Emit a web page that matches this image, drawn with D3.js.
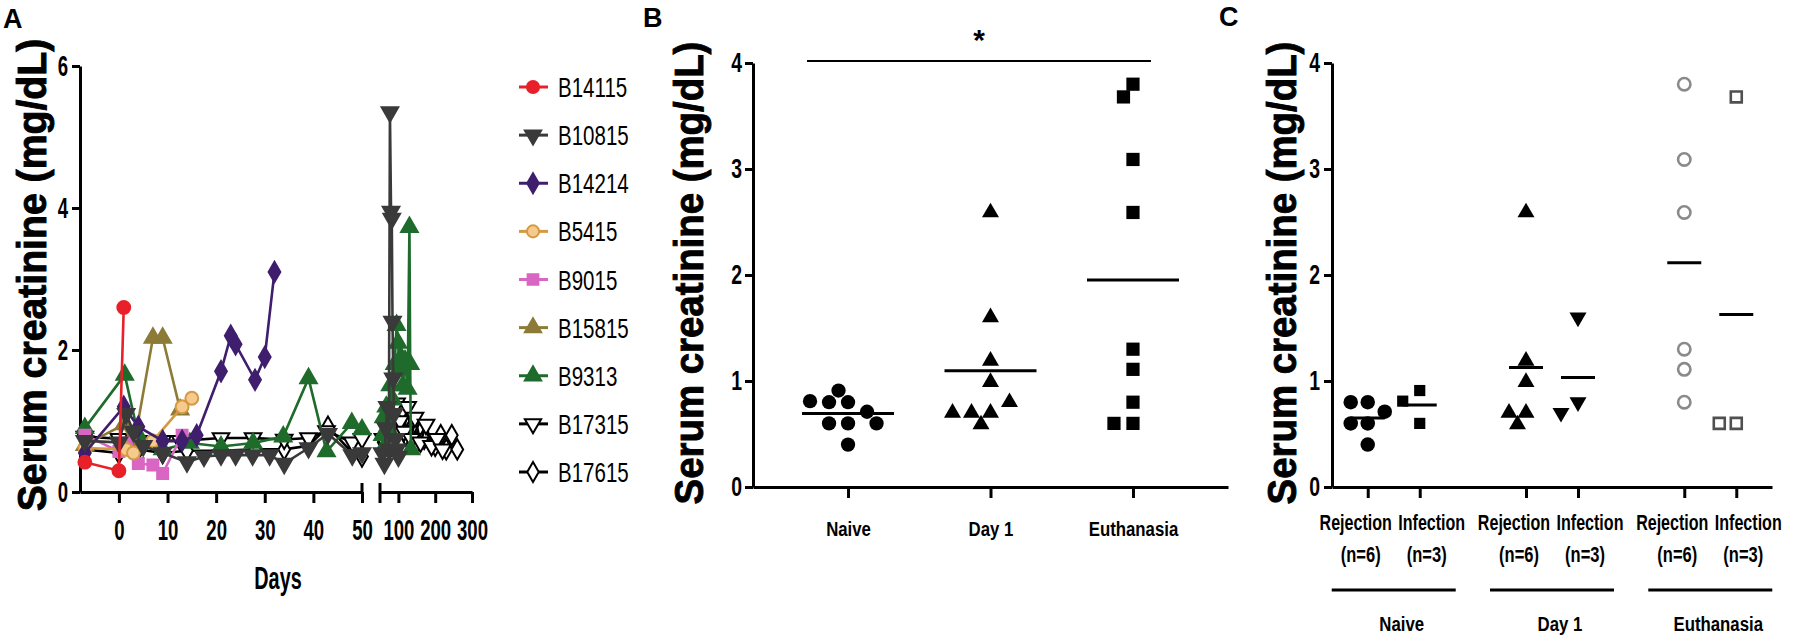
<!DOCTYPE html>
<html>
<head>
<meta charset="utf-8">
<script src="https://d3js.org/d3.v7.min.js"></script>
<style>
  body { margin: 0; background: #fff; }
  svg { display: block; }
  text { font-family: "Liberation Sans", Arial, sans-serif; fill: #000; }
  .axis path, .axis line { stroke: #000; stroke-width: 3; }
  .axis text { font-weight: bold; fill: #000; }
</style>
</head>
<body>
<svg id="fig" width="1793" height="641"></svg>
<script>
// ---------- panel A: serum creatinine per animal, [day, mg/dL] ----------
const animalNames = ["B14115", "B10815", "B14214", "B5415", "B9015", "B15815", "B9313", "B17315", "B17615"];
const B14115 = [[-7, 0.42], [0, 0.3], [1, 2.6]];
const B10815 = [[-7, 0.72], [0, 0.7], [1.5, 1.1], [3, 0.85], [5, 0.65], [9, 0.55], [14, 0.42], [17.5, 0.5], [21, 0.52], [24, 0.52],
  [27.5, 0.52], [31, 0.52], [34, 0.4], [39, 0.62], [43, 0.82], [48, 0.52], [50, 0.55],
  [56, 0.55], [62, 0.4], [66, 0.9], [70, 1.2], [74, 0.6], [77, 5.35], [80, 3.95], [82, 3.85], [84, 2.4], [86, 1.6], [88, 1.1], [92, 0.75], [96, 0.6], [100, 0.5]];
const B14214 = [[-7, 0.55], [1, 1.2], [4, 0.92], [9, 0.72], [13, 0.72], [16, 0.8], [21, 1.7], [23, 2.2], [24, 2.08], [28, 1.58], [30, 1.9], [32, 3.1]];
const B5415 = [[-7, 0.62], [1.5, 0.6], [3, 0.55], [7, 0.72], [13, 1.2], [15, 1.32]];
const B9015 = [[-7, 0.8], [0, 0.57], [1.6, 0.69], [4, 0.4], [7, 0.38], [9, 0.26], [13, 0.8]];
const B15815 = [[-7, 0.66], [1, 0.95], [3, 0.62], [7, 2.17], [9, 2.17], [12.6, 1.16]];
const B9313 = [[-7, 0.9], [1.2, 1.65], [4, 0.8], [9, 0.6], [14.6, 0.69], [21, 0.64], [27.6, 0.69], [33.8, 0.78], [39, 1.6], [42.7, 0.57], [47.9, 0.97], [50, 0.88],
  [57, 0.8], [60, 1.05], [63, 0.65], [67, 1.2], [72, 0.9], [78, 1.5], [85, 1.3], [90, 1.8], [95, 2.35], [99, 2.1], [103, 1.75], [107, 1.9], [112, 1.5],
  [118, 1.85], [125, 1.45], [130, 3.73], [132, 1.8], [134, 0.6]];
const B17315 = [[-7, 0.78], [0, 0.75], [4, 0.72], [9, 0.72], [12.6, 0.72], [21, 0.76], [27.6, 0.76], [34, 0.74], [39, 0.76], [42.7, 0.86], [48, 0.7], [50, 0.75],
  [58, 0.75], [70, 0.55], [95, 1.25], [105, 1.0], [115, 0.85], [125, 1.2], [135, 0.75], [145, 1.05], [160, 0.7], [175, 0.95], [190, 0.65], [205, 0.75], [220, 0.6]];
const B17615 = [[-7, 0.6], [0, 0.55], [4, 0.6], [9, 0.55], [14, 0.58], [21, 0.58], [28, 0.6], [34, 0.6], [39, 0.65], [43, 0.92], [48, 0.55], [50, 0.5],
  [60, 0.7], [75, 0.65], [100, 0.9], [110, 1.15], [120, 0.8], [140, 0.95], [150, 0.7], [170, 0.75], [200, 0.65], [215, 0.8], [230, 0.6], [245, 0.8], [260, 0.6]];
const aYTicks = [0, 2, 4, 6];
const aXTicks1 = [0, 10, 20, 30, 40, 50];
const aXTicks2 = [100, 200, 300];

// ---------- panels B and C: values per outcome group ----------
const timePoints = ["Naive", "Day 1", "Euthanasia"];
const outcomes = ["Rejection", "Infection"];
const outcomeN = ["(n=6)", "(n=3)"];
const naiveRejection = [0.80, 0.80, 0.60, 0.60, 0.40, 0.71];
const naiveInfection = [0.60, 0.91, 0.81];
const day1Rejection = [2.59, 1.19, 0.99, 0.70, 0.70, 0.59];
const day1Infection = [1.60, 0.80, 0.70];
const euthRejection = [3.80, 3.09, 2.59, 1.30, 1.11, 0.80];
const euthInfection = [3.68, 0.60, 0.60];
const bcYTicks = [0, 1, 2, 3, 4];

// ---------- styles ----------
const animalStyle = {
  B14115: { color: "#e8202a", fill: "#e8202a", shape: "circle" },
  B10815: { color: "#3a3a3a", fill: "#3a3a3a", shape: "down" },
  B14214: { color: "#3f1e6e", fill: "#3f1e6e", shape: "diamond" },
  B5415:  { color: "#d49a42", fill: "#f6c98c", shape: "circle" },
  B9015:  { color: "#d866c2", fill: "#d866c2", shape: "square" },
  B15815: { color: "#8c7b36", fill: "#8c7b36", shape: "up" },
  B9313:  { color: "#1f6b2c", fill: "#1f6b2c", shape: "up" },
  B17315: { color: "#000", fill: "#fff", shape: "down" },
  B17615: { color: "#000", fill: "#fff", shape: "diamond" }
};

const svg = d3.select("#fig");
const intFmt = d3.format("d");

function symbolPath(shape, size) {
  const type = { circle: d3.symbolCircle, square: d3.symbolSquare, up: d3.symbolTriangle,
    down: d3.symbolTriangle, diamond: d3.symbolDiamond }[shape];
  return d3.symbol().type(type).size(size)();
}
function markerTransform(shape, x, y) {
  return `translate(${x},${y})` + (shape === "down" ? " rotate(180)" : "");
}

function addText(parent, x, y, str, o) {
  o = Object.assign({ size: 20, weight: "bold", sx: 1, anchor: "middle", rotate: 0 }, o);
  return parent.append("text")
    .attr("transform", `translate(${x},${y}) rotate(${o.rotate}) scale(${o.sx},1)`)
    .attr("text-anchor", o.anchor)
    .style("font-size", o.size + "px")
    .style("font-weight", o.weight)
    .text(str);
}

// squeeze axis labels horizontally like the condensed originals
function squish(g, size, sx) {
  g.selectAll("text").each(function () {
    const t = d3.select(this);
    const x = +t.attr("x") || 0, y = +t.attr("y") || 0;
    t.attr("x", null).attr("y", null)
      .attr("transform", `translate(${x},${y}) scale(${sx},1)`)
      .style("font-size", size + "px");
  });
}

// ================= PANEL A =================
const ay = d3.scaleLinear().domain([0, 6]).range([492, 66]);
const ax1 = d3.scaleLinear().domain([-8, 50]).range([80, 362]);
const ax2 = d3.scaleLinear().domain([50, 300]).range([380, 472]);
const axDay = d => d <= 50 ? ax1(d) : ax2(d);

const gA = svg.append("g");

gA.append("g").attr("class", "axis")
  .attr("transform", `translate(${ax1.range()[0]},0)`)
  .call(d3.axisLeft(ay).tickValues(aYTicks).tickFormat(intFmt).tickSize(8).tickPadding(4).tickSizeOuter(0))
  .call(g => squish(g, 30, 0.62));

const xa1 = gA.append("g").attr("class", "axis")
  .attr("transform", `translate(0,${ay(0)})`)
  .call(d3.axisBottom(ax1).tickValues(aXTicks1).tickFormat(intFmt).tickSize(11).tickPadding(16).tickSizeOuter(0))
  .call(g => squish(g, 30, 0.62));
xa1.append("line").attr("x1", ax1(50)).attr("x2", ax1(50)).attr("y1", -9).attr("y2", 0);

const xa2 = gA.append("g").attr("class", "axis")
  .attr("transform", `translate(0,${ay(0)})`)
  .call(d3.axisBottom(ax2).tickValues(aXTicks2).tickFormat(intFmt).tickSize(11).tickPadding(16).tickSizeOuter(0))
  .call(g => squish(g, 30, 0.62));
xa2.append("line").attr("x1", ax2(50)).attr("x2", ax2(50)).attr("y1", -9).attr("y2", 11);

addText(gA, 278, 589, "Days", { size: 32, sx: 0.62 });
addText(gA, 46, 275, "Serum creatinine (mg/dL)", { size: 40, rotate: -90, sx: 0.98 })
  .style("stroke", "#000").style("stroke-width", 0.9);
addText(gA, 3, 28, "A", { size: 27, anchor: "start" });

const animals = [B14115, B10815, B14214, B5415, B9015, B15815, B9313, B17315, B17615];
const line = d3.line().x(d => axDay(d[0])).y(d => ay(d[1]));

// draw last animal first so the legend order is on top
for (let i = animals.length - 1; i >= 0; i--) {
  const st = animalStyle[animalNames[i]];
  const pts = animals[i];
  const seg1 = pts.filter(d => d[0] <= 50);
  const seg2 = pts.filter(d => d[0] > 50);
  const g = gA.append("g");
  [seg1, seg2].forEach(s => {
    if (s.length > 1) g.append("path").attr("d", line(s)).attr("fill", "none")
      .attr("stroke", st.color).attr("stroke-width", 2.6);
  });
  g.selectAll("path.m").data(pts).join("path").attr("class", "m")
    .attr("d", symbolPath(st.shape, st.shape === "circle" ? 130 : 120))
    .attr("transform", d => markerTransform(st.shape, axDay(d[0]), ay(d[1])))
    .attr("fill", st.fill).attr("stroke", st.color).attr("stroke-width", 2);
}

// legend
const legY = d3.scalePoint().domain(animalNames).range([87, 472]);
const leg = gA.append("g");
animalNames.forEach(n => {
  const st = animalStyle[n];
  const y = legY(n);
  leg.append("line").attr("x1", 519).attr("x2", 548).attr("y1", y).attr("y2", y)
    .attr("stroke", st.color).attr("stroke-width", 3);
  leg.append("path").attr("d", symbolPath(st.shape, 115))
    .attr("transform", markerTransform(st.shape, 533, y))
    .attr("fill", st.fill).attr("stroke", st.color).attr("stroke-width", 2);
  addText(leg, 558, y + 10, n, { size: 27, weight: "normal", sx: 0.76, anchor: "start" });
});

// ================= shared for B and C =================
const vy = d3.scaleLinear().domain([0, 4]).range([487, 63]);

// simple beeswarm: spread equal-ish values sideways
function swarm(values, step, minDist) {
  const placed = [];
  return values.map(v => {
    const y = vy(v);
    for (let k = 0; k < 40; k++) {
      const dx = (k % 2 ? -1 : 1) * Math.ceil(k / 2) * step;
      if (placed.every(p => (p.dx - dx) ** 2 + (p.y - y) ** 2 >= minDist * minDist)) {
        placed.push({ dx, y });
        return { v, dx };
      }
    }
    return { v, dx: 0 };
  });
}

// ================= PANEL B =================
const gB = svg.append("g");
const bx = d3.scalePoint().domain(timePoints).range([753, 1228]).padding(0.667);
const bValues = {
  "Naive": naiveRejection.concat(naiveInfection),
  "Day 1": day1Rejection.concat(day1Infection),
  "Euthanasia": euthRejection.concat(euthInfection)
};
const bShape = { "Naive": "circle", "Day 1": "up", "Euthanasia": "square" };

gB.append("g").attr("class", "axis")
  .attr("transform", `translate(${bx.range()[0]},0)`)
  .call(d3.axisLeft(vy).tickValues(bcYTicks).tickFormat(intFmt).tickSize(8).tickPadding(3).tickSizeOuter(0))
  .call(g => squish(g, 27, 0.72));
gB.append("g").attr("class", "axis")
  .attr("transform", `translate(0,${vy(0)})`)
  .call(d3.axisBottom(bx).tickSize(11).tickPadding(23).tickSizeOuter(0))
  .call(g => squish(g, 21, 0.8));

timePoints.forEach(t => {
  const pts = swarm(bValues[t], 9.5, 15);
  gB.append("g").selectAll("path").data(pts).join("path")
    .attr("d", symbolPath(bShape[t], bShape[t] === "square" ? 175 : bShape[t] === "up" ? 125 : 160))
    .attr("transform", d => markerTransform(bShape[t], bx(t) + d.dx, vy(d.v)))
    .attr("fill", "#000");
  const m = d3.mean(bValues[t]);
  gB.append("line").attr("x1", bx(t) - 46).attr("x2", bx(t) + 46)
    .attr("y1", vy(m)).attr("y2", vy(m)).attr("stroke", "#000").attr("stroke-width", 3);
});

// significance bar Naive vs Euthanasia
gB.append("line").attr("x1", bx("Naive") - 41).attr("x2", bx("Euthanasia") + 18)
  .attr("y1", vy(4) - 2).attr("y2", vy(4) - 2).attr("stroke", "#000").attr("stroke-width", 1.8);
addText(gB, (bx("Naive") - 41 + bx("Euthanasia") + 18) / 2, 50, "*", { size: 30 });

addText(gB, 703, 273, "Serum creatinine (mg/dL)", { size: 40, rotate: -90, sx: 0.96 })
  .style("stroke", "#000").style("stroke-width", 0.9);
addText(gB, 643, 27, "B", { size: 27, anchor: "start" });

// ================= PANEL C =================
const gC = svg.append("g");
const cx = d3.scalePoint().domain(timePoints).range([1332, 1772]).padding(0.39);
const cSub = d3.scalePoint().domain(outcomes).range([-26, 26]);
const cLab = d3.scalePoint().domain(outcomes).range([-38, 38]);
const cN = d3.scalePoint().domain(outcomes).range([-33, 33]);
const cGroups = [
  { t: "Naive", o: "Rejection", values: naiveRejection, shape: "circle", fill: "#000", stroke: "none" },
  { t: "Naive", o: "Infection", values: naiveInfection, shape: "square", fill: "#000", stroke: "none" },
  { t: "Day 1", o: "Rejection", values: day1Rejection, shape: "up", fill: "#000", stroke: "none" },
  { t: "Day 1", o: "Infection", values: day1Infection, shape: "down", fill: "#000", stroke: "none" },
  { t: "Euthanasia", o: "Rejection", values: euthRejection, shape: "circle", fill: "none", stroke: "#8a8a8a" },
  { t: "Euthanasia", o: "Infection", values: euthInfection, shape: "square", fill: "none", stroke: "#505050" }
];

gC.append("g").attr("class", "axis")
  .attr("transform", `translate(${cx.range()[0]},0)`)
  .call(d3.axisLeft(vy).tickValues(bcYTicks).tickFormat(intFmt).tickSize(8).tickPadding(4).tickSizeOuter(0))
  .call(g => squish(g, 27, 0.72));
const cTicks = cGroups.map(d => cx(d.t) + cSub(d.o));
gC.append("g").attr("class", "axis")
  .attr("transform", `translate(0,${vy(0)})`)
  .call(d3.axisBottom(d3.scaleLinear().domain(cx.range()).range(cx.range()))
    .tickValues(cTicks).tickSize(11).tickFormat("").tickSizeOuter(0));

cGroups.forEach(gr => {
  const x0 = cx(gr.t) + cSub(gr.o);
  const open = gr.fill === "none";
  const pts = swarm(gr.values, 8.5, 14);
  gC.append("g").selectAll("path").data(pts).join("path")
    .attr("d", symbolPath(gr.shape, open ? 120 : (gr.shape === "circle" ? 165 : 125)))
    .attr("transform", d => markerTransform(gr.shape, x0 + d.dx, vy(d.v)))
    .attr("fill", gr.fill).attr("stroke", gr.stroke).attr("stroke-width", 2.6);
  const m = d3.mean(gr.values);
  gC.append("line").attr("x1", x0 - 17).attr("x2", x0 + 17)
    .attr("y1", vy(m)).attr("y2", vy(m)).attr("stroke", "#000").attr("stroke-width", 3);
  addText(gC, cx(gr.t) + cLab(gr.o), 530, gr.o, { size: 22, sx: 0.73 });
  addText(gC, cx(gr.t) + cN(gr.o), 562, outcomeN[outcomes.indexOf(gr.o)], { size: 22, sx: 0.75 });
});

timePoints.forEach(t => {
  gC.append("line").attr("x1", cx(t) - 62).attr("x2", cx(t) + 62)
    .attr("y1", 590).attr("y2", 590).attr("stroke", "#000").attr("stroke-width", 3);
  addText(gC, cx(t) + 8, 631, t, { size: 21, sx: 0.8 });
});

addText(gC, 1296, 273, "Serum creatinine (mg/dL)", { size: 40, rotate: -90, sx: 0.96 })
  .style("stroke", "#000").style("stroke-width", 0.9);
addText(gC, 1219, 26, "C", { size: 27, anchor: "start" });
</script>
</body>
</html>
